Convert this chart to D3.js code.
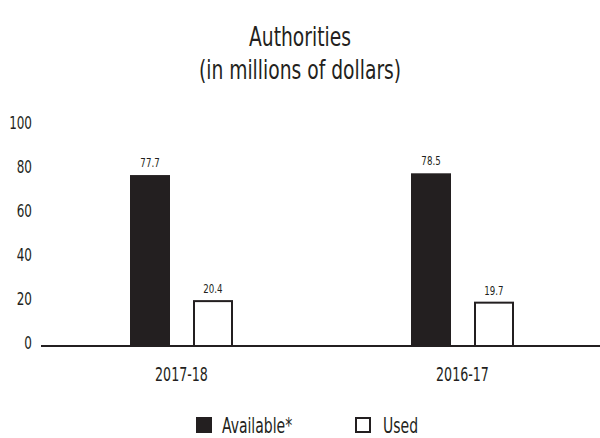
<!DOCTYPE html>
<html>
<head>
<meta charset="utf-8">
<script src="https://cdn.jsdelivr.net/npm/d3@7"></script>
<style>
  body { margin: 0; background: #fff; }
  svg { font-family: "DejaVu Sans Condensed", "DejaVu Sans", sans-serif; }
</style>
</head>
<body>
<div id="chart"></div>
<script>
const years = ["2017-18", "2016-17"];
const series = ["Available*", "Used"];
const available = [77.7, 78.5];
const used = [20.4, 19.7];
const yTicks = [0, 20, 40, 60, 80, 100];

const width = 600, height = 438;
const ink = "#231f20";
const squeeze = 0.74; // the original face is very narrow

const data = years.map((y, i) => ({year: y, values: [available[i], used[i]]}));

const svg = d3.select("#chart").append("svg")
    .attr("width", width)
    .attr("height", height);

const x = d3.scaleBand().domain(years).range([41, 603]).padding(0);
const y = d3.scaleLinear().domain([0, 100]).range([346, 126]);
const barW = 40;
const offsets = [-31.5, 31.5];

// title
svg.append("g")
    .attr("class", "title")
    .attr("font-size", 26)
    .attr("fill", ink)
    .attr("text-anchor", "middle")
  .selectAll("text")
  .data(["Authorities", "(in millions of dollars)"])
  .join("text")
    .attr("x", 300)
    .attr("y", (d, i) => [46, 79][i])
    .text(d => d);

// y tick labels
svg.append("g")
    .attr("font-size", 18)
    .attr("fill", ink)
    .attr("text-anchor", "end")
  .selectAll("text")
  .data(yTicks)
  .join("text")
    .attr("x", 32)
    .attr("y", d => y(d) - 3.5)
    .attr("dy", "0.35em")
    .text(d => d);

// bars
const groups = svg.append("g")
  .selectAll("g")
  .data(data)
  .join("g")
    .attr("transform", d => `translate(${x(d.year) + x.bandwidth() / 2},0)`);

groups.selectAll("rect")
  .data(d => d.values)
  .join("rect")
    .attr("x", (d, i) => offsets[i] - barW / 2 + (i === 0 ? 0 : 1))
    .attr("y", d => y(d))
    .attr("width", (d, i) => i === 0 ? barW : barW - 2)
    .attr("height", d => y(0) - y(d))
    .attr("fill", (d, i) => i === 0 ? ink : "#fff")
    .attr("stroke", ink)
    .attr("stroke-width", (d, i) => i === 0 ? 0 : 2);

groups.append("g")
    .attr("font-size", 13)
    .attr("fill", ink)
    .attr("text-anchor", "middle")
  .selectAll("text")
  .data(d => d.values)
  .join("text")
    .attr("x", (d, i) => offsets[i])
    .attr("y", d => y(d) - 8)
    .text(d => d.toFixed(1));

// baseline
svg.append("line")
    .attr("x1", 41).attr("x2", 600)
    .attr("y1", y(0)).attr("y2", y(0))
    .attr("stroke", ink)
    .attr("stroke-width", 2);

// x labels
svg.append("g")
    .attr("font-size", 19)
    .attr("fill", ink)
    .attr("text-anchor", "middle")
  .selectAll("text")
  .data(years)
  .join("text")
    .attr("x", d => x(d) + x.bandwidth() / 2)
    .attr("y", 381)
    .text(d => d);

// legend
const legend = svg.append("g")
  .selectAll("g")
  .data(series)
  .join("g")
    .attr("transform", (d, i) => `translate(${[196, 355][i]},417)`);
legend.append("rect")
    .attr("x", (d, i) => i === 0 ? 0 : 1)
    .attr("y", (d, i) => i === 0 ? 0 : 1)
    .attr("width", (d, i) => i === 0 ? 16 : 14)
    .attr("height", (d, i) => i === 0 ? 16 : 14)
    .attr("fill", (d, i) => i === 0 ? ink : "#fff")
    .attr("stroke", ink)
    .attr("stroke-width", (d, i) => i === 0 ? 0 : 2);
legend.append("text")
    .attr("x", (d, i) => [26, 28][i])
    .attr("y", 15.5)
    .attr("font-size", 21)
    .attr("fill", ink)
    .text(d => d);

// narrow every label to mimic the condensed face
svg.selectAll("text").each(function () {
  const len = this.getComputedTextLength();
  const k = this.parentNode.classList.contains("title") ? 0.8 : squeeze;
  d3.select(this)
      .attr("textLength", len * k)
      .attr("lengthAdjust", "spacingAndGlyphs");
});
</script>
</body>
</html>
